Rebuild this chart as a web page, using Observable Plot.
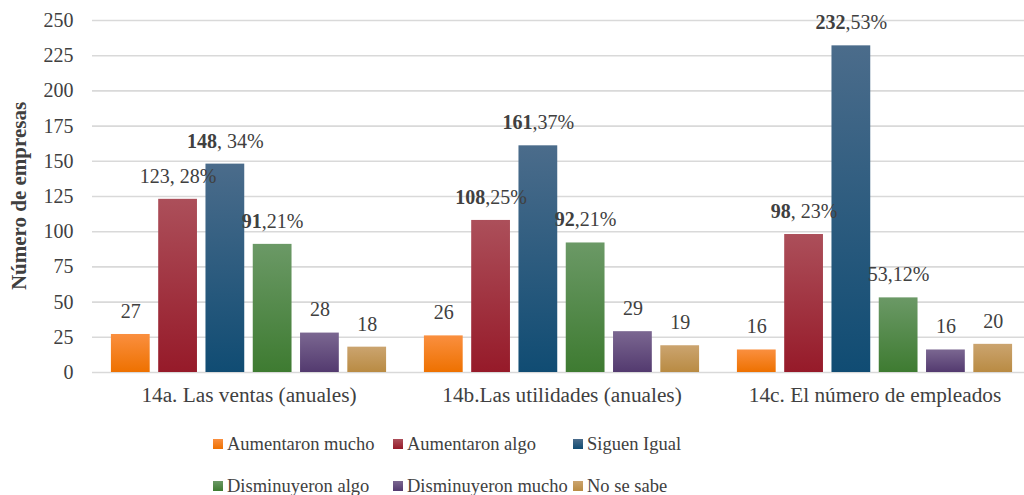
<!DOCTYPE html>
<html><head><meta charset="utf-8">
<script src="https://cdn.jsdelivr.net/npm/d3@7"></script>
<script src="https://cdn.jsdelivr.net/npm/@observablehq/plot@0.6"></script>
<style>
html,body{margin:0;padding:0;background:#fff;}
body{font-family:"Liberation Serif","Times New Roman",serif;color:#404040;position:relative;width:1024px;height:495px;overflow:hidden;}
#legend{position:absolute;left:213px;top:423px;width:560px;display:flex;flex-wrap:wrap;font-size:18.5px;line-height:42px;color:#404040;}
.item{width:180px;display:flex;align-items:center;white-space:nowrap;}
.sw{width:10px;height:10px;margin-right:4px;flex:none;}
</style></head><body>
<div id="chart"></div>
<div id="legend"></div>
<script>
const groups = ["14a. Las ventas (anuales)", "14b.Las utilidades (anuales)", "14c. El número de empleados"];
const series = ["Aumentaron mucho", "Aumentaron algo", "Siguen Igual", "Disminuyeron algo", "Disminuyeron mucho", "No se sabe"];
const ventas = [27, 123, 148, 91, 28, 18];
const utilidades = [26, 108, 161, 92, 29, 19];
const empleados = [16, 98, 232, 53, 16, 20];
const ventasLabels = ["27", "123, 28%", "148, 34%", "91,21%", "28", "18"];
const utilidadesLabels = ["26", "108,25%", "161,37%", "92,21%", "29", "19"];
const empleadosLabels = ["16", "98, 23%", "232,53%", "53,12%", "16", "20"];
const ventasBold = [false, false, true, true, false, false];
const utilidadesBold = [false, true, true, true, false, false];
const empleadosBold = [false, true, true, false, false, false];
const yTicks = [0, 25, 50, 75, 100, 125, 150, 175, 200, 225, 250];
const yTitle = "Número de empresas";
const colorsTop = ["#fa8f3f", "#ac4f5a", "#4b6c8b", "#6b9966", "#7b6791", "#cba46f"];
const colorsBottom = ["#ee7100", "#961a29", "#104c73", "#3e7b31", "#533a6f", "#b98b43"];

const FONT = '"Liberation Serif","Times New Roman",serif';
const valuesByGroup = [ventas, utilidades, empleados];
const labelsByGroup = [ventasLabels, utilidadesLabels, empleadosLabels];
const boldByGroup = [ventasBold, utilidadesBold, empleadosBold];
const data = [];
groups.forEach((g, gi) => series.forEach((s, si) => data.push({
  group: g, series: s, value: valuesByGroup[gi][si], label: labelsByGroup[gi][si], bold: boldByGroup[gi][si]
})));
const gradIds = series.map((s, i) => "grad" + i);

const chart = Plot.plot({
  width: 1024,
  height: 423,
  marginLeft: 91,
  marginRight: 0,
  marginTop: 20,
  marginBottom: 51,
  style: {fontFamily: FONT, fontSize: "20px", color: "#404040", background: "#fff"},
  fx: {domain: groups, padding: 0, range: [91, 1031.5]},
  x: {domain: series, paddingInner: 0.18, paddingOuter: 0.4, round: false, axis: null},
  y: {domain: [0, 250]},
  color: {domain: series, range: gradIds.map(id => `url(#${id})`)},
  marks: [
    Plot.ruleY(yTicks, {stroke: "#d9d9d9", strokeWidth: 1.6}),
    Plot.barY(data, {fx: "group", x: "series", y: "value", fill: "series"}),
    Plot.text(data, {fx: "group", x: "series", y: "value", text: "label", dy: -23, fill: "#404040", fontSize: 20, fontFamily: FONT}),
    Plot.axisY({ticks: yTicks, tickSize: 0, tickPadding: 19, label: null, fill: "#404040", fontFamily: FONT, fontSize: 20}),
    Plot.axisFx({anchor: "bottom", tickSize: 0, tickPadding: 14, label: null, fill: "#404040", fontFamily: FONT, fontSize: 21.3})
  ]
});

const svgEl = chart.tagName.toLowerCase() === "svg" ? chart : chart.querySelector("svg");
const svg = d3.select(svgEl);
const defs = svg.insert("defs", ":first-child");
gradIds.forEach((id, i) => {
  const lg = defs.append("linearGradient").attr("id", id).attr("x1", 0).attr("y1", 0).attr("x2", 0).attr("y2", 1);
  lg.append("stop").attr("offset", "0%").attr("stop-color", colorsTop[i]);
  lg.append("stop").attr("offset", "100%").attr("stop-color", colorsBottom[i]);
});
// bold number parts of the value labels
const boldMap = new Map(data.map(d => [d.label, d.bold]));
svg.selectAll("text").each(function() {
  const t = this.textContent;
  if (boldMap.get(t)) {
    const k = t.indexOf(",");
    const sel = d3.select(this);
    sel.text(null);
    sel.append("tspan").attr("font-weight", "bold").text(t.slice(0, k));
    sel.append("tspan").text(t.slice(k));
  }
});
// y axis title
svg.append("text")
  .attr("transform", "translate(19,196) rotate(-90)")
  .attr("text-anchor", "middle")
  .attr("dominant-baseline", "central")
  .attr("font-weight", "bold")
  .attr("font-size", 21)
  .attr("font-family", FONT)
  .attr("fill", "#404040")
  .text(yTitle);

document.getElementById("chart").append(chart);

const legend = d3.select("#legend");
series.forEach((s, i) => {
  const it = legend.append("div").attr("class", "item");
  it.append("div").attr("class", "sw").style("background", `linear-gradient(${colorsTop[i]}, ${colorsBottom[i]})`);
  it.append("span").text(s);
});
</script>
</body></html>
